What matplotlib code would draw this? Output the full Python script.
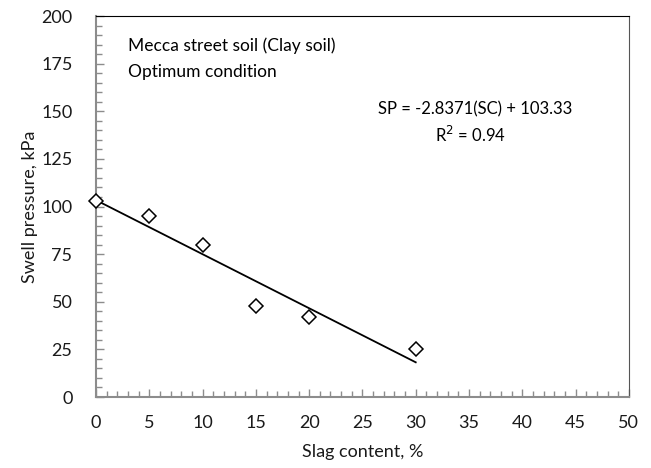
import numpy as np
import matplotlib
matplotlib.use("Agg")
import matplotlib.pyplot as plt
from matplotlib.ticker import MultipleLocator

plt.rcParams["font.family"] = ["Lato", "DejaVu Sans"]

slag = [0, 5, 10, 15, 20, 30]
swell = [103, 95, 80, 48, 42, 25]
slope = -2.8371
intercept = 103.33

fig = plt.figure(figsize=(6.51, 4.68), dpi=100)
ax = fig.add_axes([0.1475, 0.1517, 0.8185, 0.8141])

fit_x = np.array([min(slag), max(slag)])
ax.plot(fit_x, slope * fit_x + intercept, color="black", lw=1.3, zorder=2)
ax.plot(slag, swell, linestyle="none", marker="D", markersize=7.5,
        markerfacecolor="white", markeredgecolor="black", markeredgewidth=1.1,
        clip_on=False, zorder=3)

ax.set_xlim(0, 50)
ax.set_ylim(0, 200)
ax.xaxis.set_major_locator(MultipleLocator(5))
ax.xaxis.set_minor_locator(MultipleLocator(1))
ax.yaxis.set_major_locator(MultipleLocator(25))
ax.yaxis.set_minor_locator(MultipleLocator(5))
ax.tick_params(which="both", direction="in", color="#8c8c8c", labelsize=13,
               labelcolor="#1a1a1a")
ax.tick_params(which="major", length=6, width=1)
ax.tick_params(axis="y", which="major", pad=17)
ax.tick_params(axis="x", which="major", pad=13)
ax.tick_params(which="minor", length=4, width=1)

for side in ["left", "bottom"]:
    ax.spines[side].set_color("#8c8c8c")
    ax.spines[side].set_linewidth(1.5)
ax.spines["top"].set_color("black")
ax.spines["right"].set_color("#555555")

ax.set_xlabel("Slag content, %", fontsize=13, labelpad=9, color="#1a1a1a")
ax.set_ylabel("Swell pressure, kPa", fontsize=13, labelpad=2, color="#1a1a1a")

ax.text(3, 184.5, "Mecca street soil (Clay soil)", fontsize=12.5, va="center")
ax.text(3, 170.5, "Optimum condition", fontsize=12.5, va="center")
ax.text(35.6, 151, "SP = -2.8371(SC) + 103.33", fontsize=12, ha="center", va="center")
ax.text(35.1, 137.5, "R$^2$ = 0.94", fontsize=12, ha="center", va="center")

fig.savefig("out.png", dpi=100)
